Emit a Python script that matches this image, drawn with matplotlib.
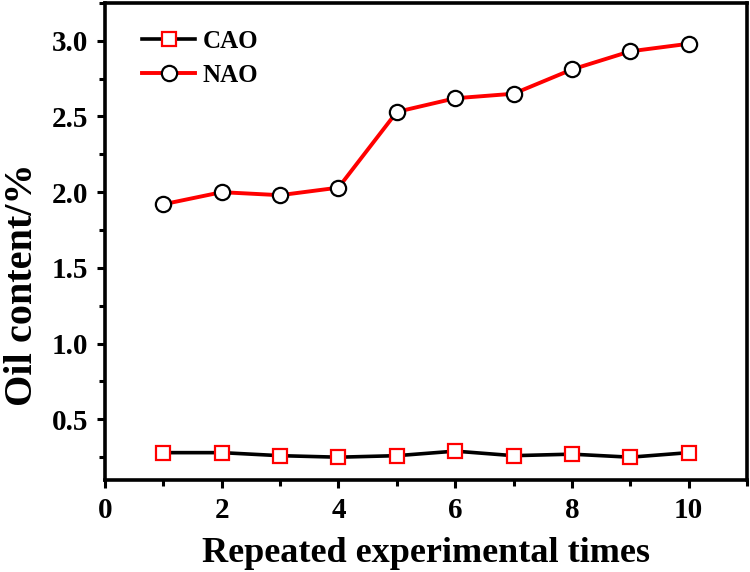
import matplotlib
matplotlib.use("Agg")
import matplotlib.pyplot as plt
from matplotlib.ticker import MultipleLocator

# Data
runs = [1, 2, 3, 4, 5, 6, 7, 8, 9, 10]
cao = [0.28, 0.28, 0.26, 0.25, 0.26, 0.29, 0.26, 0.27, 0.25, 0.28]
nao = [1.92, 2.00, 1.98, 2.03, 2.53, 2.62, 2.65, 2.81, 2.93, 2.98]

plt.rcParams['font.family'] = ['Liberation Serif', 'DejaVu Serif']
plt.rcParams['font.weight'] = 'bold'

fig = plt.figure(figsize=(7.5, 5.72), dpi=100)
ax = fig.add_axes([0.14, 0.161, 0.856, 0.834])

ax.plot(runs, cao, color='black', lw=2.6, marker='s', ms=10,
        mfc='white', mec='red', mew=1.6, label='CAO')
ax.plot(runs, nao, color='red', lw=2.8, marker='o', ms=11,
        mfc='white', mec='black', mew=1.6, label='NAO')

ax.set_xlim(0, 11)
ax.set_ylim(0.1, 3.25)
ax.xaxis.set_major_locator(MultipleLocator(2))
ax.xaxis.set_minor_locator(MultipleLocator(1))
ax.yaxis.set_minor_locator(MultipleLocator(0.25))
ax.set_yticks([0.5, 1.0, 1.5, 2.0, 2.5, 3.0])

for s in ax.spines.values():
    s.set_linewidth(2.6)
ax.tick_params(which='major', length=6, width=2.2, labelsize=21,
               direction='out', pad=6)
ax.tick_params(which='minor', length=4, width=2.2, direction='out')

ax.set_xlabel('Repeated experimental times', fontsize=26, fontweight='bold',
              labelpad=10)
ax.set_ylabel('Oil content/%', fontsize=29, fontweight='bold')
ax.yaxis.set_label_coords(-0.1, 0.41)

ax.legend(loc='upper left', frameon=False, fontsize=18, handlelength=2.1,
          handletextpad=0.3, labelspacing=0.45,
          bbox_to_anchor=(0.035, 0.975), borderaxespad=0.2)

fig.savefig('out.png', dpi=100)
